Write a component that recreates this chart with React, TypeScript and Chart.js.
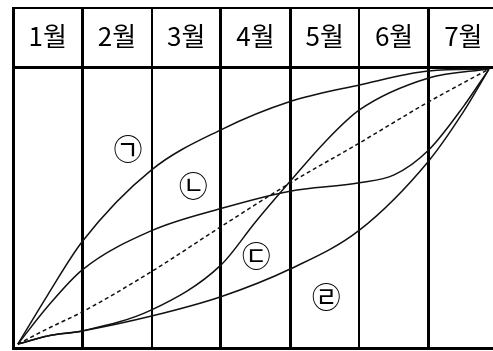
import React, { useEffect, useRef } from "react";
import { Chart, registerables } from "chart.js";

Chart.register(...registerables);

// Header (month) labels, centred in each monthly column
const monthLabels = ["1월", "2월", "3월", "4월", "5월", "6월", "7월"];
const monthCenters = [0.5, 1.5, 2.5, 3.5, 4.5, 5.5, 6.5];

// Vertical scale: 0 = bottom, 100 = header bottom line, headerTop = top line of table
const headerBottom = 100;
const headerTop = 121.4;

// Curve ㉠ (early, concave)
const curveGiyeokX = [0.07, 0.5, 1, 2, 3, 4, 5, 6, 6.87];
const curveGiyeokY = [1.4, 18.9, 38.0, 63.6, 77.9, 88.0, 93.9, 98.9, 99.6];

// Curve ㉡
const curveNieunX = [0.07, 0.5, 1, 2, 3, 4, 5, 5.5, 6, 6.5, 6.87];
const curveNieunY = [1.4, 14.8, 27.9, 41.9, 49.8, 56.0, 59.0, 61.8, 70.7, 86.2, 99.6];

// Curve ㉢ (S-curve)
const curveDigeutX = [0.07, 0.5, 1, 2, 3, 3.5, 4, 4.5, 5, 6, 6.87];
const curveDigeutY = [1.4, 4.3, 6.1, 13.6, 29.6, 45.0, 59.5, 73.5, 85.0, 96.4, 99.6];

// Curve ㉣ (late, convex)
const curveRieulX = [0.07, 0.5, 1, 2, 3, 4, 5, 6, 6.5, 6.87];
const curveRieulY = [1.4, 4.3, 6.1, 11.4, 18.3, 28.2, 42.1, 66.8, 84.3, 99.6];

// Dashed (near-linear) reference curve
const dashedX = [0.07, 0.5, 1, 2, 3, 4, 5, 6, 6.87];
const dashedY = [1.4, 6.9, 12.9, 27.3, 43.3, 58.9, 73.2, 87.9, 99.6];

// Circled curve labels
const circleLabels = ["㉠", "㉡", "㉢", "㉣"];
const circleLabelX = [1.66, 2.6, 3.51, 4.52];
const circleLabelY = [71.1, 57.9, 32.9, 18.2];

const FONT = '"Noto Sans CJK KR", "Noto Sans", sans-serif';

const toPoints = (xs: number[], ys: number[]) => xs.map((x, i) => ({ x, y: ys[i] }));

const circleLabelPlugin = {
  id: "circleLabels",
  afterDatasetsDraw(chart: any) {
    const { ctx, scales } = chart;
    const xs = scales.x;
    const ys = scales.y;
    ctx.save();
    ctx.font = `29px ${FONT}`;
    ctx.fillStyle = "#000";
    ctx.textAlign = "center";
    ctx.textBaseline = "middle";
    circleLabels.forEach((t, i) => {
      ctx.fillText(t, xs.getPixelForValue(circleLabelX[i]), ys.getPixelForValue(circleLabelY[i]));
    });
    ctx.restore();
  },
};

export default function App() {
  const canvasRef = useRef<HTMLCanvasElement | null>(null);

  useEffect(() => {
    document.body.style.margin = "0";
    document.body.style.overflow = "hidden";
    document.documentElement.style.overflow = "hidden";
    const canvas = canvasRef.current;
    if (!canvas) return;

    const lineStyle = {
      borderColor: "#111",
      borderWidth: 1.5,
      pointRadius: 0,
      fill: false,
      cubicInterpolationMode: "monotone" as const,
    };

    const chart = new Chart(canvas, {
      type: "line",
      data: {
        datasets: [
          { label: "㉠", data: toPoints(curveGiyeokX, curveGiyeokY), ...lineStyle },
          { label: "㉡", data: toPoints(curveNieunX, curveNieunY), ...lineStyle },
          { label: "㉢", data: toPoints(curveDigeutX, curveDigeutY), ...lineStyle },
          { label: "㉣", data: toPoints(curveRieulX, curveRieulY), ...lineStyle },
          { label: "dashed", data: toPoints(dashedX, dashedY), ...lineStyle, borderDash: [4, 3] },
        ],
      },
      options: {
        animation: false,
        responsive: false,
        maintainAspectRatio: false,
        layout: { padding: { left: 13, right: 2, top: 8, bottom: 3 } },
        plugins: { legend: { display: false }, tooltip: { enabled: false } },
        scales: {
          x: {
            type: "linear",
            min: 0,
            max: 7,
            ticks: { display: false, stepSize: 1 },
            grid: {
              color: "#000",
              lineWidth: (c: any) => (c.index === 2 || c.index === 5 ? 2 : 3),
              drawTicks: false,
            },
            border: { display: true, color: "#000", width: 3 },
          },
          xTop: {
            type: "linear",
            position: "top",
            min: 0,
            max: 7,
            afterBuildTicks: (s: any) => {
              s.ticks = monthCenters.map((v) => ({ value: v }));
            },
            afterFit: (s: any) => {
              s.height = 0;
            },
            ticks: {
              callback: (_v: any, i: number) => monthLabels[i],
              color: "#000",
              font: { family: FONT, size: 26 },
              mirror: true,
              padding: 13,
              autoSkip: false,
              maxRotation: 0,
            },
            grid: { display: false, drawTicks: false },
            border: { display: false },
          },
          y: {
            type: "linear",
            min: 0,
            max: headerTop,
            afterBuildTicks: (s: any) => {
              s.ticks = [0, headerBottom, headerTop].map((v) => ({ value: v }));
            },
            ticks: { display: false },
            grid: {
              color: "#000",
              lineWidth: (c: any) => (c.index === 2 ? 2 : 3),
              drawTicks: false,
            },
            border: { display: true, color: "#000", width: 3 },
          },
        },
      },
      plugins: [circleLabelPlugin],
    });

    return () => chart.destroy();
  }, []);

  return (
    <div style={{ width: 500, height: 351 }}>
      <canvas ref={canvasRef} width={500} height={351} style={{ display: "block", width: 500, height: 351 }} />
    </div>
  );
}
